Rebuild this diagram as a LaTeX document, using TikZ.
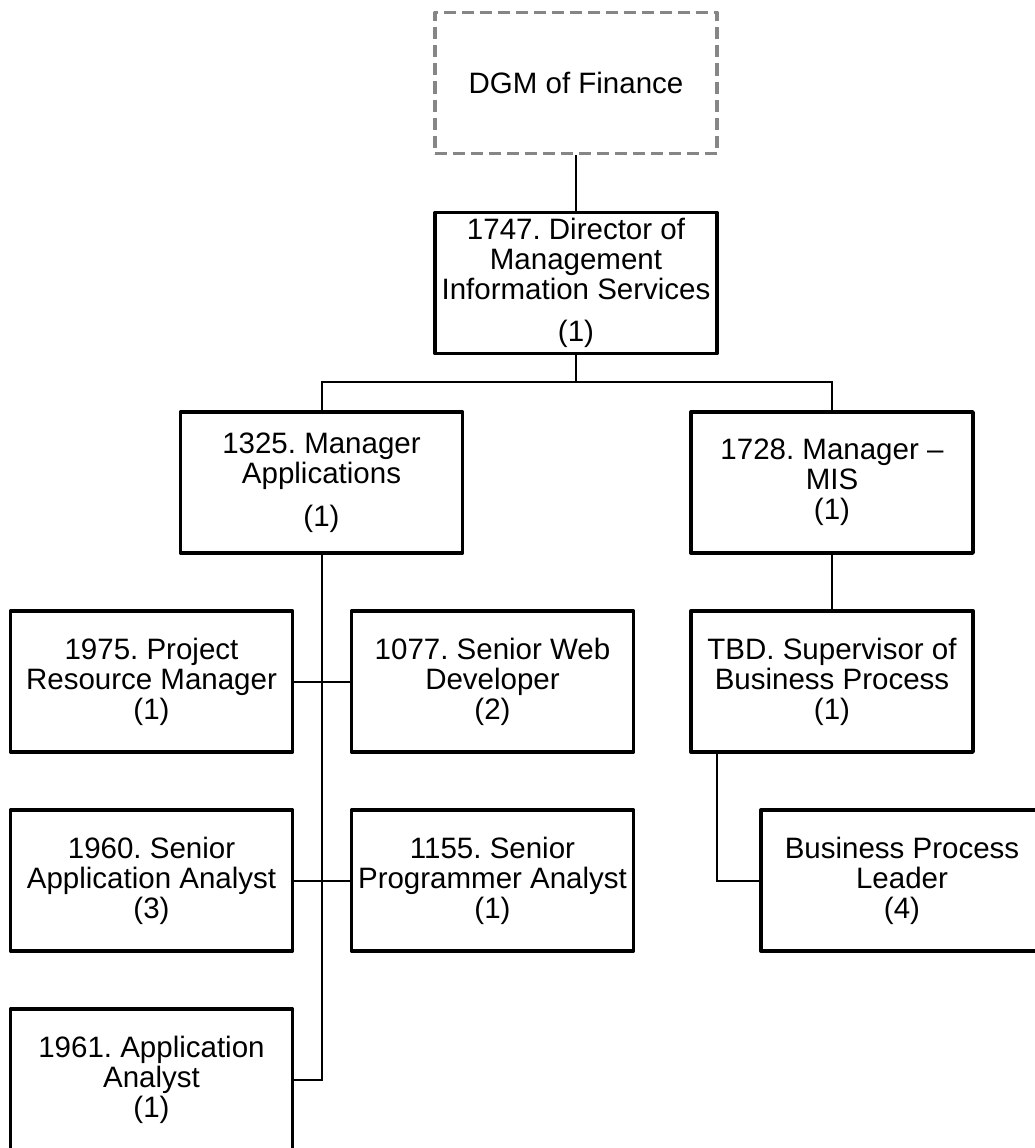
\documentclass[tikz,border=0pt]{standalone}
\usepackage{fontspec}
\setmainfont{Liberation Sans}
\frenchspacing

\begin{document}
\begin{tikzpicture}[
    x=1pt, y=-1pt,
    post/.style={rectangle, draw=black, line width=3.4pt, line join=round, minimum width=282pt, minimum height=141pt, inner sep=0pt, align=center, font=\fontsize{29.5}{30}\selectfont},
    vacant/.style={post, draw=gray!95, dash pattern=on 12pt off 6pt},
    link/.style={draw=black, line width=2pt}
  ]
    \useasboundingbox (0,0) rectangle (1034,1148);

    % Haut de l'organigramme
    \node[vacant] (dgm) at (576, 83) {DGM of Finance};
    \node[post] (dir) at (576, 283) {1747. Director of\\Management\\Information Services\\[12pt](1)};

    % Managers
    \node[post] (mgrapp) at (321.5, 482.5) {1325. Manager\\Applications\\[13pt](1)};
    \node[post] (mgrmis) at (832, 482.5) {1728. Manager --\\MIS\\(1)};

    % Equipe applications
    \node[post] (prm) at (151.5, 681.5) {1975. Project\\Resource Manager\\(1)};
    \node[post] (web) at (492.5, 681.5) {1077. Senior Web\\Developer\\(2)};
    \node[post] (saa) at (151.5, 880.5) {1960. Senior\\Application Analyst\\(3)};
    \node[post] (spa) at (492.5, 880.5) {1155. Senior\\Programmer Analyst\\(1)};
    \node[post] (analyst) at (151.5, 1079.5) {1961. Application\\Analyst\\(1)};

    % Equipe MIS
    \node[post] (sup) at (832, 681.5) {TBD. Supervisor of\\Business Process\\(1)};
    \node[post] (bpl) at (902, 880.5) {Business Process\\Leader\\(4)};

    % Liens hierarchiques
    \coordinate (split) at (576, 382);
    \draw[link] (dgm) -- (dir);
    \draw[link] (dir) -- (split);
    \draw[link] (mgrapp.north) |- (split) -| (mgrmis.north);
    \draw[link] (mgrapp.south) |- (analyst.east);
    \draw[link] (prm) -- (web);
    \draw[link] (saa) -- (spa);
    \draw[link] (mgrmis) -- (sup);
    \draw[link] ([xshift=28pt]sup.south west) |- (bpl.west);
\end{tikzpicture}
\end{document}
